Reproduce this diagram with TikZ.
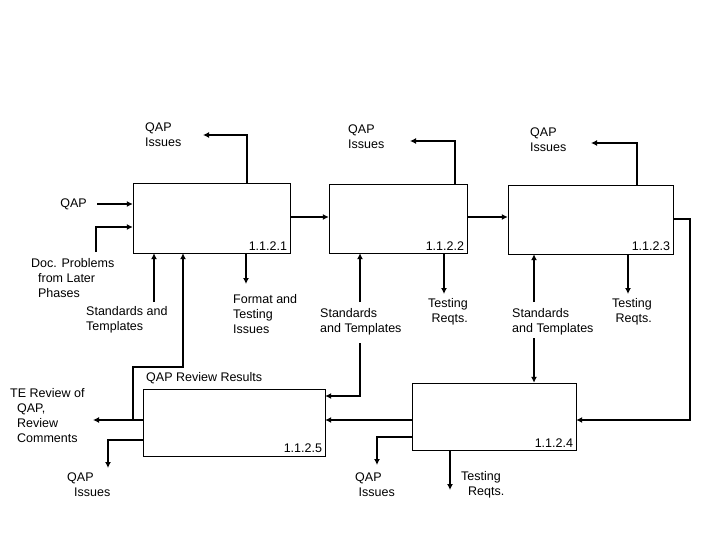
\documentclass[tikz,border=0pt]{standalone}
\usepackage{fontspec}
\setmainfont{Liberation Sans}
\usetikzlibrary{arrows.meta, positioning}

\begin{document}
\begin{tikzpicture}[x=1pt, y=-1pt,
            box/.style={draw, thin, inner sep=0pt},
            flow/.style={-{Latex[length=6pt, width=6pt]}, line width=2.2pt},
            lbl/.style={font=\fontsize{12.5}{15}\selectfont, inner sep=0pt},
            num/.style={font=\fontsize{12.5}{15}\selectfont, anchor=south east, inner sep=3pt}
        ]
        \useasboundingbox (0,0) rectangle (720,540);

        % Boxes
        \node[box, minimum width=157pt, minimum height=70pt] (P1) at (211.5,218) {};
        \node[box, minimum width=138pt, minimum height=69pt] (P2) at (398,218.5) {};
        \node[box, minimum width=165pt, minimum height=69pt] (P3) at (590.5,219.5) {};
        \node[box, minimum width=164pt, minimum height=67pt] (P4) at (494,416.5) {};
        \node[box, minimum width=182pt, minimum height=67pt] (P5) at (234,422.5) {};

        \node[num] at (P1.south east) {1.1.2.1};
        \node[num] at (P2.south east) {1.1.2.2};
        \node[num] at (P3.south east) {1.1.2.3};
        \node[num] at (P4.south east) {1.1.2.4};
        \node[num] at (P5.south east) {1.1.2.5};

        % Labels
        \node[lbl, align=left, anchor=west] (i1) at (145,135) {QAP\\Issues};
        \node[lbl, align=left, anchor=west] (i2) at (348,137) {QAP\\Issues};
        \node[lbl, align=left, anchor=west] (i3) at (530,140) {QAP\\Issues};
        \node[lbl, anchor=east] (qap) at (87,204) {QAP};
        \node[lbl, align=left, anchor=west] (doc) at (31,278) {Doc. Problems\\\ \ from Later\\\ \ Phases};
        \node[lbl, align=left, anchor=west] (st1) at (86,320) {Standards and\\Templates};
        \node[lbl, align=left, anchor=west] (fmt) at (233,314) {Format and\\Testing\\Issues};
        \node[lbl, align=left, anchor=west] (st2) at (320,322) {Standards\\and Templates};
        \node[lbl, align=right, anchor=east] (tr2) at (468,312) {Testing\\Reqts.};
        \node[lbl, align=left, anchor=west] (st3) at (512,322) {Standards\\and Templates};
        \node[lbl, align=right, anchor=east] (tr3) at (652,312) {Testing\\Reqts.};
        \node[lbl, anchor=west] (rev) at (146,378) {QAP Review Results};
        \node[lbl, align=left, anchor=west] (te) at (10,416) {TE Review of\\\ \ QAP,\\\ \ Review\\\ \ Comments};
        \node[lbl, align=left, anchor=west] (i5) at (67,485) {QAP\\\ \ Issues};
        \node[lbl, align=left, anchor=west] (i4) at (355,485) {QAP\\\ Issues};
        \node[lbl, align=left, anchor=west] (tr4) at (461,485) {Testing\\\ \ Reqts.};

        % Free ends
        \coordinate (qapend) at (97,204);
        \coordinate (docend) at (96,252);
        \coordinate (s1end) at (154,302);
        \coordinate (fmtend) at (246,284);
        \coordinate (s2end) at (360,302);
        \coordinate (s2low) at (360,343);
        \coordinate (t2end) at (444,294);
        \coordinate (s3end) at (534,302);
        \coordinate (s3low) at (534,338);
        \coordinate (t3end) at (628,294);
        \coordinate (teend) at (93,420);
        \coordinate (i1end) at (203,135);
        \coordinate (i2end) at (410,141);
        \coordinate (i3end) at (591,143);
        \coordinate (i5end) at (108,468);
        \coordinate (i4end) at (377,465);
        \coordinate (t4end) at (450,490);

        % Connectors of 1.1.2.1
        \draw[flow] (qapend) -- (qapend -| P1.west);
        \draw[flow] (docend) |- (P1.west |- 0,227);
        \draw[flow] (s1end) -- (s1end |- P1.south);
        \draw[flow] (P1.north -| 247,0) |- (i1end);
        \draw[flow] (P1.south -| fmtend) -- (fmtend);
        \draw[flow] (P1.east |- 0,217) -- (P2.west |- 0,217);
        \draw[flow] (P5.west |- 0,420) -| (133,367) -| (P1.south -| 183,0);

        % Connectors of 1.1.2.2
        \draw[flow] (P2.north -| 455,0) |- (i2end);
        \draw[flow] (P2.south -| t2end) -- (t2end);
        \draw[flow] (s2end) -- (s2end |- P2.south);
        \draw[flow] (s2low) |- (P5.east |- 0,396);
        \draw[flow] (P2.east |- 0,217) -- (P3.west |- 0,217);

        % Connectors of 1.1.2.3
        \draw[flow] (P3.north -| 637,0) |- (i3end);
        \draw[flow] (P3.south -| t3end) -- (t3end);
        \draw[flow] (s3end) -- (s3end |- P3.south);
        \draw[flow] (s3low) -- (s3low |- P4.north);
        \draw[flow] (P3.east |- 0,219) -| (690,420) -- (P4.east |- 0,420);

        % Connectors of 1.1.2.4 and 1.1.2.5
        \draw[flow] (P4.west |- 0,420) -- (P5.east |- 0,420);
        \draw[flow] (P4.west |- 0,437) -| (i4end);
        \draw[flow] (P4.south -| t4end) -- (t4end);
        \draw[flow] (P5.west |- 0,420) -- (teend);
        \draw[flow] (P5.west |- 0,440) -| (i5end);
    \end{tikzpicture}
\end{document}
